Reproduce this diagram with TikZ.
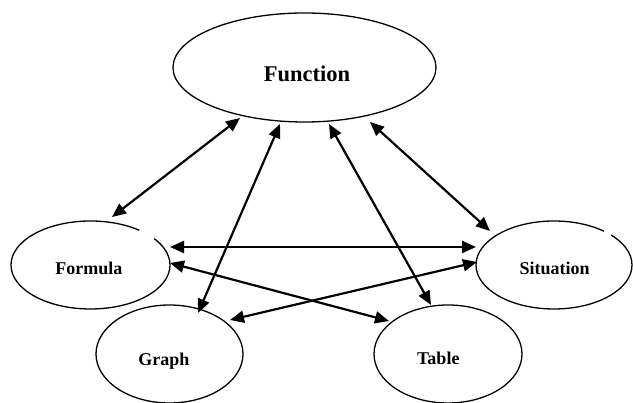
\documentclass[tikz,border=0pt]{standalone}
\usepackage{fontspec}
\setmainfont{Liberation Serif}
\usetikzlibrary{arrows.meta,calc,shapes.geometric}
\begin{document}
\begin{tikzpicture}[x=1pt,y=1pt,
  oval/.style={ellipse, draw, line width=1.3pt, inner sep=0pt, outer sep=0pt},
  lbl/.style={font=\bfseries\fontsize{18}{18}\selectfont, inner sep=0pt, anchor=base},
  biglbl/.style={lbl, font=\bfseries\fontsize{22.5}{22.5}\selectfont},
  dbl/.style={line width=2.2pt, {Triangle[length=14pt,width=12pt]}-{Triangle[length=14pt,width=12pt]}},
  gapline/.style={white, line width=3.5pt}]
\useasboundingbox (0,0) rectangle (633,403);
% ellipses
\node[oval, minimum width=263pt, minimum height=109pt] (fn) at (304.5,335.5) {};
\node[oval, minimum width=159pt, minimum height=88pt] (fo) at (90.5,138) {};
\node[oval, minimum width=147pt, minimum height=98pt] (gr) at (169.5,49) {};
\node[oval, minimum width=148pt, minimum height=98pt] (ta) at (448,49) {};
\node[oval, minimum width=156pt, minimum height=88pt] (si) at (554,138) {};
% small gaps in outlines
\draw[gapline] ($(fo.center)+(37:79.5pt and 44pt)$) arc[start angle=37, end angle=52, x radius=79.5pt, y radius=44pt];
\draw[gapline] ($(si.center)+(43:78pt and 44pt)$) arc[start angle=43, end angle=50, x radius=78pt, y radius=44pt];
% labels
\node[biglbl] (fnt) at ($(fn.center)+(2.5,-14.2)$) {Function};
\node[lbl] (fot) at ($(fo.center)+(-1.7,-9.3)$) {Formula};
\node[lbl] (grt) at ($(gr.center)+(-5.7,-12)$) {Graph};
\node[lbl] (tat) at ($(ta.center)+(-9.7,-11)$) {Table};
\node[lbl] (sit) at ($(si.center)+(0.7,-9.3)$) {Situation};
% connectors
\draw[dbl] ($(fn.center)+(-64.5,-50.5)$) -- ($(fo.center)+(21.5,48)$);
\draw[dbl] ($(fn.center)+(-24.5,-56.5)$) -- ($(gr.center)+(28.5,41)$);
\draw[dbl] ($(fn.center)+(24.5,-56.5)$) -- ($(ta.center)+(-17,49)$);
\draw[dbl] ($(fn.center)+(65.5,-54.5)$) -- ($(si.center)+(-64,34)$);
\draw[dbl] ($(fo.center)+(79.5,18)$) -- ($(si.center)+(-78,18)$);
\draw[dbl] ($(fo.center)+(79.5,2)$) -- ($(ta.center)+(-59,33)$);
\draw[dbl] ($(gr.center)+(60.5,34)$) -- ($(si.center)+(-77,3)$);
\end{tikzpicture}
\end{document}
